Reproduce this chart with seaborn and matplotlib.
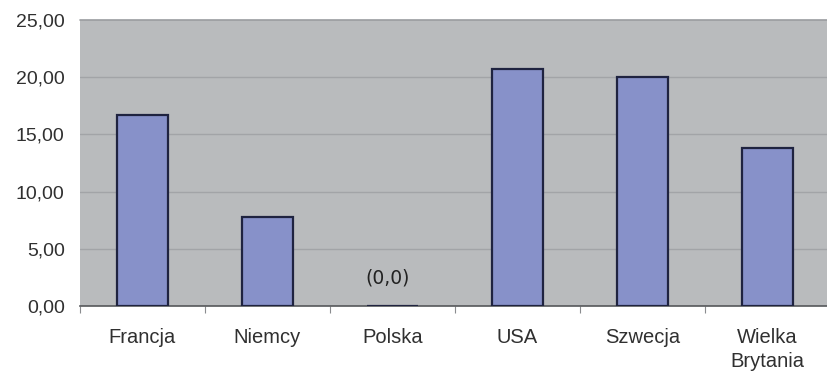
import matplotlib
matplotlib.use("Agg")
import matplotlib.pyplot as plt
import seaborn as sns
import pandas as pd
import numpy as np

countries = ["Francja", "Niemcy", "Polska", "USA", "Szwecja", "Wielka\nBrytania"]
values = [16.7, 7.8, 0.0, 20.7, 20.0, 13.8]
y_ticks = [0, 5, 10, 15, 20, 25]
y_tick_labels = ["0,00", "5,00", "10,00", "15,00", "20,00", "25,00"]
zero_note = "(0,0)"

df = pd.DataFrame({"kraj": countries, "wartosc": values})

sns.set_theme(style="white")
plt.rcParams["font.family"] = ["Liberation Sans", "DejaVu Sans"]

fig = plt.figure(figsize=(8.28, 3.74), dpi=100)
fig.patch.set_facecolor("white")
ax = fig.add_axes([80 / 828, 68 / 374, 750 / 828, 286 / 374])
ax.set_facecolor("#b9bbbd")

sns.barplot(data=df, x="kraj", y="wartosc", color="#8791c9", saturation=1,
            edgecolor="#1f2340", linewidth=1.6, width=0.41, ax=ax, zorder=3)

ax.set_xlim(-0.5, len(countries) - 0.5)
ax.set_ylim(0, 25)
ax.set_yticks(y_ticks)
ax.set_yticklabels(y_tick_labels)
ax.set_xlabel("")
ax.set_ylabel("")

for y in y_ticks[1:-1]:
    ax.axhline(y, color="#a2a4a7", linewidth=1.0, zorder=1)

# bottom axis line and boundary ticks between categories
for s in ["left", "right", "top"]:
    ax.spines[s].set_visible(False)
ax.spines["bottom"].set_color("#55575a")
ax.spines["bottom"].set_linewidth(1.2)
ax.axhline(25, color="#9a9c9f", linewidth=1.2, zorder=1, clip_on=False)
ax.set_xticks(np.arange(-0.5, len(countries)), minor=True)
ax.tick_params(axis="x", which="minor", bottom=True, length=5, width=0.8, color="#8a8c8f")
ax.tick_params(axis="x", which="major", bottom=False, length=0, pad=16,
               labelsize=14.5, labelcolor="#303030")
ax.tick_params(axis="y", left=False, length=0, pad=11, labelsize=14, labelcolor="#303030")
for lbl in ax.get_xticklabels():
    lbl.set_linespacing(1.3)

idx = values.index(0.0)
ax.text(idx - 0.04, values[idx] + 2.45, zero_note, ha="center", va="center",
        fontsize=13.5, color="#222222", family=["DejaVu Sans"], zorder=4)

fig.savefig("out.png", dpi=100, facecolor="white")
